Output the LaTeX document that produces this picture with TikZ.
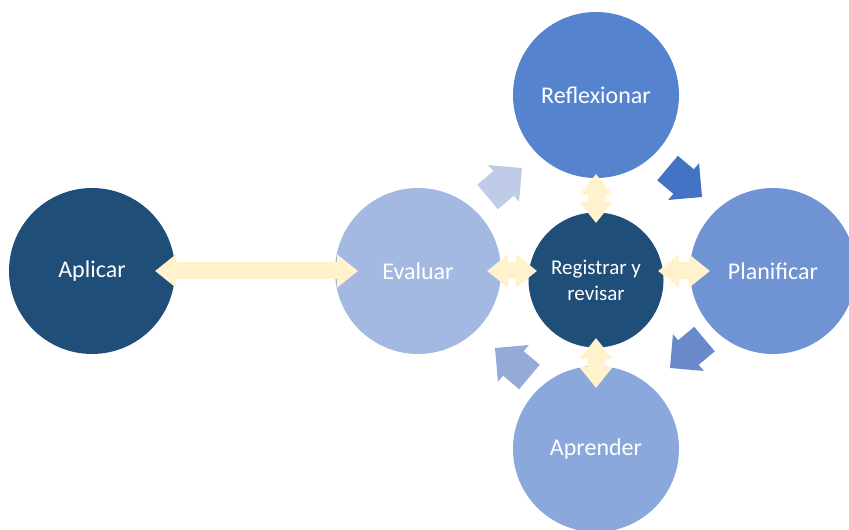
\documentclass[tikz,border=0pt]{standalone}
\usepackage{fontspec}
\setmainfont{Carlito}
\usetikzlibrary{arrows.meta}

\definecolor{deepblue}{HTML}{1F4E79}
\definecolor{evalblue}{HTML}{A3B9E1}
\definecolor{reflblue}{HTML}{5683CE}
\definecolor{planblue}{HTML}{6F93D3}
\definecolor{aprblue}{HTML}{8BA8DC}
\definecolor{cream}{HTML}{FFF2CC}

\tikzset{
	stage/.style={circle,minimum size=166pt,inner sep=0pt,text=white,font=\fontsize{24}{29}\selectfont},
	hub/.style={circle,minimum size=135pt,inner sep=0pt,fill=deepblue,text=white,align=center,font=\fontsize{21}{26}\selectfont},
	link/.style={draw=cream,line width=17pt,{Triangle[width=32pt,length=21pt]}-{Triangle[width=32pt,length=21pt]}},
	pics/turn/.style={code={\fill (0,0) -- (-24,24) -- (-24,16) -- (-45,16) -- (-45,-16) -- (-24,-16) -- (-24,-24) -- cycle;}}
}

\begin{document}
\begin{tikzpicture}[x=1pt,y=1pt]
	\useasboundingbox (0,0) rectangle (849,530);
	\node[stage,fill=deepblue] (aplicar) at (92,259) {Aplicar};
	\node[stage,fill=evalblue] (evaluar) at (418,259) {Evaluar};
	\node[stage,fill=reflblue] (reflexionar) at (596,435) {Reflexionar};
	\node[stage,fill=planblue] (planificar) at (773,259) {Planificar};
	\node[stage,fill=aprblue] (aprender) at (596,81) {Aprender};
	\node[hub] (registrar) at (596,250) {Registrar y\\revisar};
	% turning arrows of the cycle
	\pic[fill={rgb,255:red,192;green,204;blue,231},rotate=40] at (522,362) {turn};
	\pic[fill={rgb,255:red,68;green,114;blue,196},rotate=-40] at (702,333) {turn};
	\pic[fill={rgb,255:red,106;green,137;blue,203},rotate=220] at (670,162) {turn};
	\pic[fill={rgb,255:red,150;green,170;blue,216},rotate=140] at (495,182) {turn};
	% double arrows
	\draw[link,shorten <=63pt,shorten >=60pt] (aplicar.center) -- (evaluar.center);
	\draw[link,shorten <=69pt,shorten >=59pt] (evaluar.center) -- (evaluar.center -| registrar.center);
	\draw[link,shorten <=62pt,shorten >=63pt] (planificar.center -| registrar.center) -- (planificar.center);
	\draw[link,shorten <=57pt,shorten >=79pt] (registrar.center) -- (reflexionar.center);
	\draw[link,shorten <=58pt,shorten >=61pt] (registrar.center) -- (aprender.center);
\end{tikzpicture}
\end{document}
